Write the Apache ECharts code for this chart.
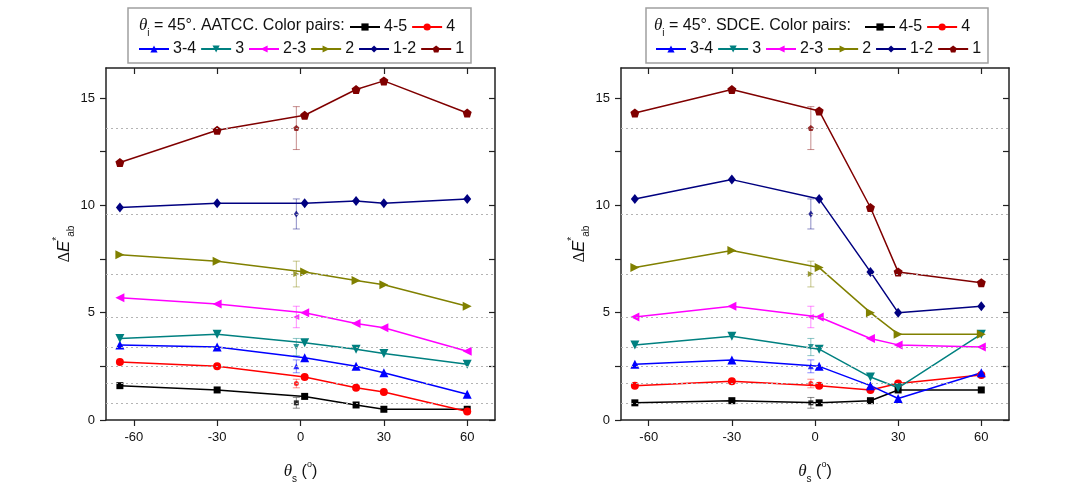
<!DOCTYPE html>
<html>
<head>
<meta charset="utf-8">
<script src="https://cdn.jsdelivr.net/npm/echarts@6/dist/echarts.min.js"></script>
<style>
  html, body { margin: 0; padding: 0; background: #fff; }
  #chart { width: 1078px; height: 498px; }
</style>
</head>
<body>
<div id="chart"></div>
<script>
// Scattering angles θs (degrees) of the instrumental measurements
const angles = [-65, -30, 1.5, 20, 30, 60];
// The visual assessment is plotted just left of 0°
const refAngle = -1.5;

// Grey-scale colour pairs
const pairs = ['4-5', '4', '3-4', '3', '2-3', '2', '1-2', '1'];

// ΔE*ab by AATCC, one array per colour pair
const aatcc_4_5 = [1.6, 1.4, 1.1, 0.7, 0.5, 0.5];
const aatcc_4   = [2.7, 2.5, 2.0, 1.5, 1.3, 0.4];
const aatcc_3_4 = [3.5, 3.4, 2.9, 2.5, 2.2, 1.2];
const aatcc_3   = [3.8, 4.0, 3.6, 3.3, 3.1, 2.6];
const aatcc_2_3 = [5.7, 5.4, 5.0, 4.5, 4.3, 3.2];
const aatcc_2   = [7.7, 7.4, 6.9, 6.5, 6.3, 5.3];
const aatcc_1_2 = [9.9, 10.1, 10.1, 10.2, 10.1, 10.3];
const aatcc_1   = [12.0, 13.5, 14.2, 15.4, 15.8, 14.3];

// ΔE*ab by SDCE, one array per colour pair
const sdce_4_5 = [0.8, 0.9, 0.8, 0.9, 1.4, 1.4];
const sdce_4   = [1.6, 1.8, 1.6, 1.4, 1.7, 2.1];
const sdce_3_4 = [2.6, 2.8, 2.5, 1.6, 1.0, 2.2];
const sdce_3   = [3.5, 3.9, 3.3, 2.0, 1.5, 4.0];
const sdce_2_3 = [4.8, 5.3, 4.8, 3.8, 3.5, 3.4];
const sdce_2   = [7.1, 7.9, 7.1, 5.0, 4.0, 4.0];
const sdce_1_2 = [10.3, 11.2, 10.3, 6.9, 5.0, 5.3];
const sdce_1   = [14.3, 15.4, 14.4, 9.9, 6.9, 6.4];

// Visual assessment of each pair and its spread
const refValues = [0.8, 1.7, 2.5, 3.4, 4.8, 6.8, 9.6, 13.6];
const refErrors = [0.25, 0.2, 0.3, 0.4, 0.5, 0.6, 0.7, 1.0];

// Axis ticks
const xTicks = [-60, -30, 0, 30, 60];
const yTicks = [0, 2.5, 5, 7.5, 10, 12.5, 15];
const yLabels = [0, 5, 10, 15];

const aatccValues = [aatcc_4_5, aatcc_4, aatcc_3_4, aatcc_3, aatcc_2_3, aatcc_2, aatcc_1_2, aatcc_1];
const sdceValues  = [sdce_4_5, sdce_4, sdce_3_4, sdce_3, sdce_2_3, sdce_2, sdce_1_2, sdce_1];

// Marker styling per pair
const colors  = ['#000000', '#ff0000', '#0000ff', '#008080', '#ff00ff', '#808000', '#000080', '#800000'];
const pentagon = 'path://M0,-10 L9.51,-3.09 L5.88,8.09 L-5.88,8.09 L-9.51,-3.09 Z';
const symbols = ['rect', 'circle', 'triangle', 'triangle', 'triangle', 'triangle', 'diamond', pentagon];
const rotates = [0, 0, 0, 180, 90, -90, 0, 0];
const sizes   = [7, 8, 9, 9, 9, 9, [8, 10], 9];
const refSizes = [5, 5, 6, 6, 6, 6, [5, 7], 6];

const SANS = '"Liberation Sans", Arial, sans-serif';
const SERIF = '"Liberation Serif", "Times New Roman", serif';
const INK = '#111';

function errorBar(params, api) {
  const x = api.value(0), y = api.value(1), e = api.value(2);
  const top = api.coord([x, y + e]);
  const bot = api.coord([x, y - e]);
  const half = 3.5;
  const style = { stroke: api.visual('color'), lineWidth: 1, opacity: 0.45 };
  return {
    type: 'group',
    children: [
      { type: 'line', shape: { x1: top[0], y1: top[1], x2: bot[0], y2: bot[1] }, style },
      { type: 'line', shape: { x1: top[0] - half, y1: top[1], x2: top[0] + half, y2: top[1] }, style },
      { type: 'line', shape: { x1: bot[0] - half, y1: bot[1], x2: bot[0] + half, y2: bot[1] }, style }
    ]
  };
}

function panelSeries(idx, values) {
  const out = [];
  pairs.forEach((p, i) => {
    out.push({
      type: 'line', name: p,
      xAxisIndex: idx * 2, yAxisIndex: idx * 2,
      data: angles.map((a, j) => [a, values[i][j]]),
      symbol: symbols[i], symbolSize: sizes[i], symbolRotate: rotates[i],
      showAllSymbol: true,
      itemStyle: { color: colors[i] },
      lineStyle: { color: colors[i], width: 1.5 },
      z: 4
    });
    out.push({
      type: 'scatter', name: p,
      xAxisIndex: idx * 2, yAxisIndex: idx * 2,
      data: [[refAngle, refValues[i]]],
      symbol: symbols[i], symbolSize: refSizes[i], symbolRotate: rotates[i],
      itemStyle: { color: colors[i] },
      z: 3,
      markLine: {
        silent: true, symbol: 'none', animation: false,
        label: { show: false },
        lineStyle: { type: [2, 3], color: '#b4b4b4', width: 1 },
        data: [{ yAxis: refValues[i] }]
      }
    });
    out.push({
      type: 'custom', name: p,
      xAxisIndex: idx * 2, yAxisIndex: idx * 2,
      data: [[refAngle, refValues[i], refErrors[i]]],
      encode: { x: 0, y: 1 },
      itemStyle: { color: colors[i] },
      renderItem: errorBar,
      z: 2
    });
  });
  return out;
}

const axisLine = { show: true, onZero: false, lineStyle: { color: '#222', width: 1.5 } };

function xAxes(idx) {
  return [
    {
      type: 'value', gridIndex: idx, position: 'bottom', min: -70, max: 70,
      axisLine,
      axisTick: { show: true, inside: false, length: 6, customValues: xTicks, lineStyle: { color: '#222', width: 1.2 } },
      axisLabel: { show: true, customValues: xTicks, fontSize: 13, fontFamily: SANS, color: INK, margin: 11 },
      splitLine: { show: false },
      name: '{th|θ}{sub|s}{n| (}{sup|o}{n|)}',
      nameLocation: 'middle', nameGap: 40,
      nameTextStyle: {
        fontSize: 16, fontFamily: SANS, color: INK,
        rich: {
          th: { fontSize: 17, fontFamily: SERIF, fontStyle: 'italic', color: INK, lineHeight: 24 },
          sub: { fontSize: 10, fontFamily: SANS, color: INK, verticalAlign: 'bottom', lineHeight: 10 },
          sup: { fontSize: 9, fontFamily: SANS, color: INK, verticalAlign: 'top', lineHeight: 12 },
          n: { fontSize: 16, fontFamily: SANS, color: INK, lineHeight: 24 }
        }
      }
    },
    {
      type: 'value', gridIndex: idx, position: 'top', min: -70, max: 70,
      axisLine,
      axisTick: { show: true, inside: true, length: 6, customValues: xTicks, lineStyle: { color: '#222', width: 1.2 } },
      axisLabel: { show: false },
      splitLine: { show: false }
    }
  ];
}

function yAxes(idx) {
  return [
    {
      type: 'value', gridIndex: idx, position: 'left', min: 0, max: 16.4,
      axisLine,
      axisTick: { show: true, inside: false, length: 6, customValues: yTicks, lineStyle: { color: '#222', width: 1.2 } },
      axisLabel: { show: true, customValues: yLabels, fontSize: 13, fontFamily: SANS, color: INK, margin: 11 },
      splitLine: { show: false },
      name: '{d|Δ}{it|E}{sup|*}{sub|ab}',
      nameLocation: 'middle', nameGap: 28,
      nameTextStyle: {
        fontSize: 16, fontFamily: SANS, color: INK,
        rich: {
          d: { fontSize: 16, fontFamily: SERIF, color: INK, lineHeight: 24 },
          it: { fontSize: 17, fontFamily: SANS, fontStyle: 'italic', color: INK, lineHeight: 24 },
          sup: { fontSize: 10, fontFamily: SANS, color: INK, verticalAlign: 'top', lineHeight: 12 },
          sub: { fontSize: 10, fontFamily: SANS, color: INK, verticalAlign: 'bottom', lineHeight: 10 }
        }
      }
    },
    {
      type: 'value', gridIndex: idx, position: 'right', min: 0, max: 16.4,
      axisLine,
      axisTick: { show: true, inside: true, length: 6, customValues: yTicks, lineStyle: { color: '#222', width: 1.2 } },
      axisLabel: { show: false },
      splitLine: { show: false }
    }
  ];
}

function legends(left1, left2) {
  const common = {
    orient: 'horizontal', itemWidth: 30, itemHeight: 9, itemGap: 4, padding: 0,
    selectedMode: false, symbolRotate: 'inherit', z: 6,
    textStyle: { fontSize: 16, fontFamily: SANS, color: INK, padding: [0, 0, 0, -1] }
  };
  return [
    Object.assign({}, common, { left: left1, top: 19, data: ['4-5', '4'] }),
    Object.assign({}, common, { left: left2, top: 41, data: ['3-4', '3', '2-3', '2', '1-2', '1'] })
  ];
}

function headerText(x, label) {
  return {
    type: 'text', x: x, y: 26, z: 6,
    style: {
      text: '{th|θ}{sub|i}{n| = 45°. ' + label + '. Color pairs:}',
      verticalAlign: 'middle', align: 'left',
      rich: {
        th: { fontSize: 17, fontFamily: SERIF, fontStyle: 'italic', fill: INK, lineHeight: 24 },
        sub: { fontSize: 10, fontFamily: SANS, fill: INK, verticalAlign: 'bottom', lineHeight: 10 },
        n: { fontSize: 16, fontFamily: SANS, fill: INK, lineHeight: 24 }
      }
    }
  };
}

const chart = echarts.init(document.getElementById('chart'), null, { renderer: 'canvas' });
chart.setOption({
  animation: false,
  backgroundColor: '#ffffff',
  grid: [
    { left: 106, top: 68, width: 389, height: 352, containLabel: false },
    { left: 621, top: 68, width: 388, height: 352, containLabel: false }
  ],
  xAxis: xAxes(0).concat(xAxes(1)),
  yAxis: yAxes(0).concat(yAxes(1)),
  legend: legends(349, 138).concat(legends(864, 655)),
  graphic: [
    { type: 'rect', x: 128, y: 8, z: 1, shape: { width: 343, height: 55 }, style: { fill: '#fff', stroke: '#a0a0a0', lineWidth: 1.5 } },
    { type: 'rect', x: 646, y: 8, z: 1, shape: { width: 342, height: 55 }, style: { fill: '#fff', stroke: '#a0a0a0', lineWidth: 1.5 } },
    headerText(139, 'AATCC'),
    headerText(654, 'SDCE')
  ],
  series: panelSeries(0, aatccValues).concat(panelSeries(1, sdceValues))
});
</script>
</body>
</html>
